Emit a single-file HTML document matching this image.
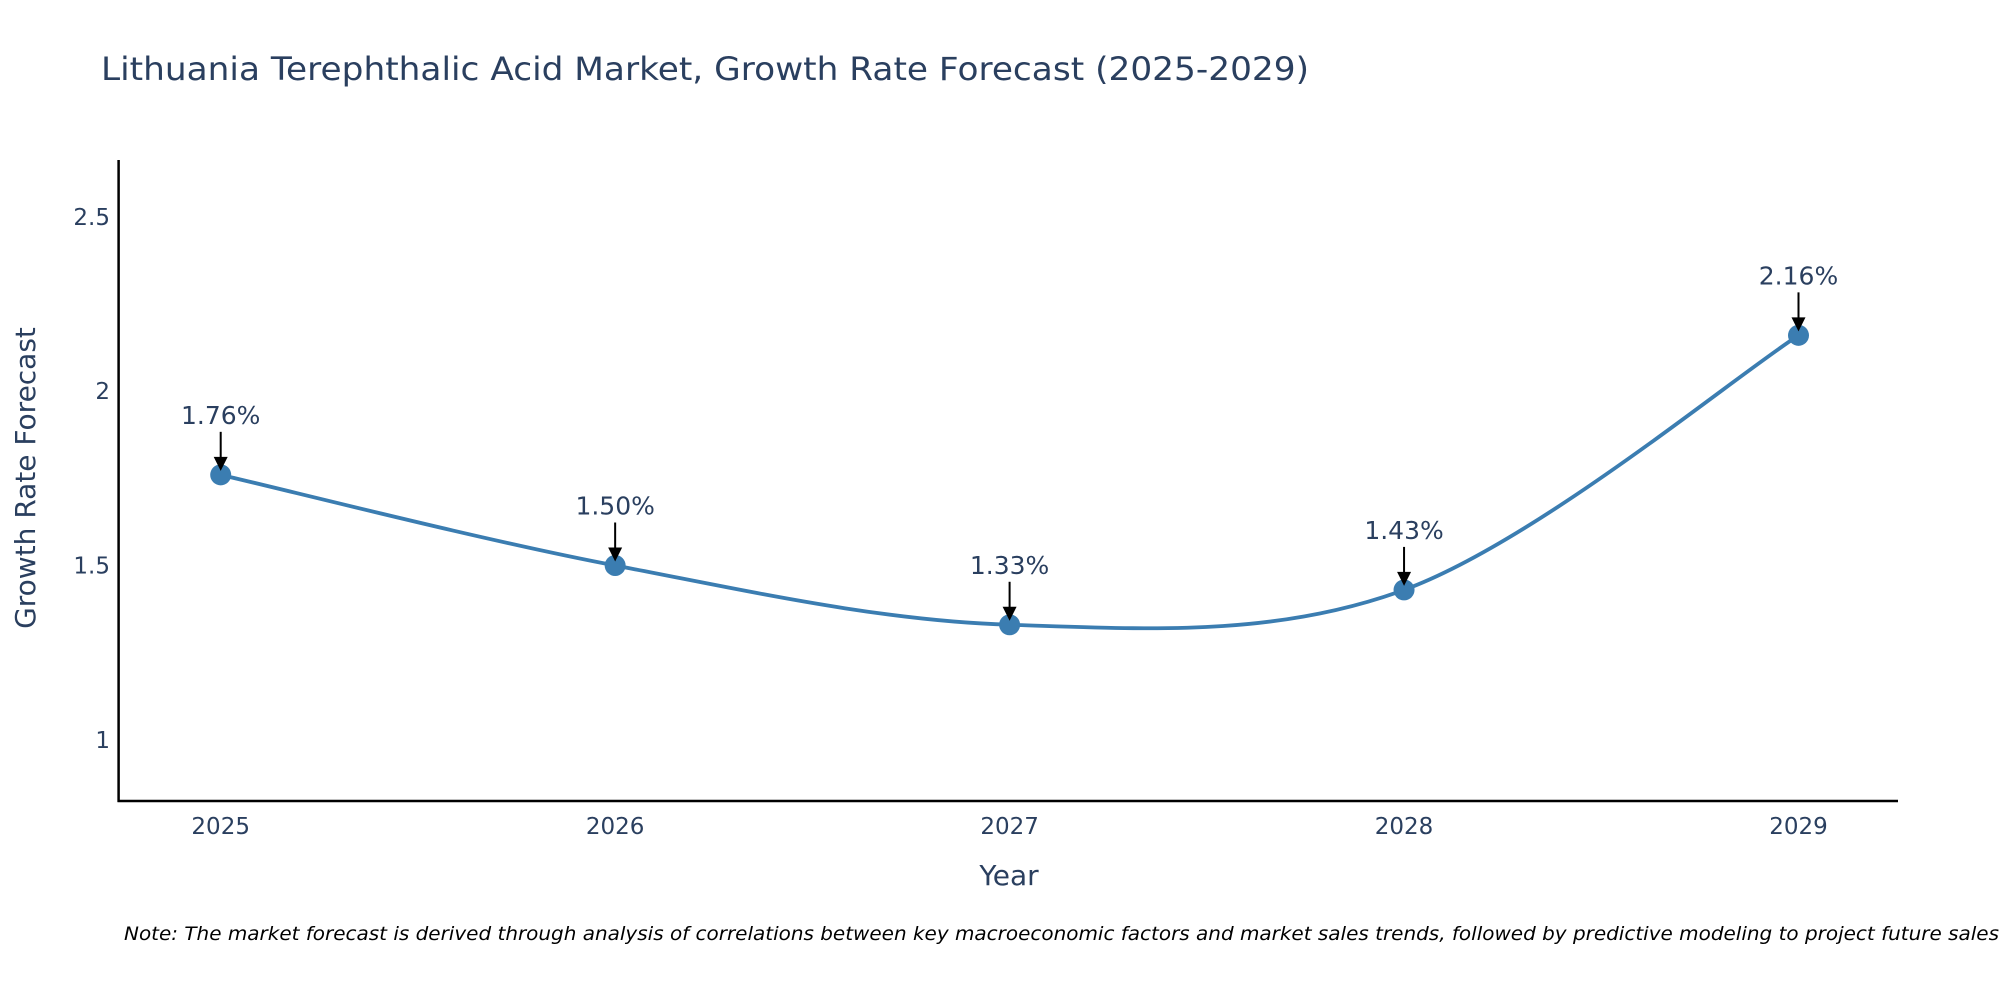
<!DOCTYPE html>
<html><head><meta charset="utf-8"><style>
html,body{margin:0;padding:0;background:#fff;}
svg{display:block;font-family:"DejaVu Sans","Liberation Sans",sans-serif;}
</style></head><body>
<svg id="chart" width="2000" height="1000" viewBox="0 0 2000 1000">
<text x="101" y="80" font-size="32" fill="#2a3f5f" textLength="1208" lengthAdjust="spacingAndGlyphs">Lithuania Terephthalic Acid Market, Growth Rate Forecast (2025-2029)</text>
<g id="yticks"></g>
<g id="xticks"></g>
<line x1="118.6" y1="160" x2="118.6" y2="802" stroke="#000" stroke-width="2.5"/>
<line x1="117.5" y1="801" x2="1898" y2="801" stroke="#000" stroke-width="2.5"/>
<text x="1009" y="885" font-size="28" fill="#2a3f5f" text-anchor="middle">Year</text>
<text transform="translate(35,478) rotate(-90)" font-size="28" fill="#2a3f5f" text-anchor="middle">Growth Rate Forecast</text>
<g id="series"></g>
<g id="annots"></g>
<text x="124" y="940" font-size="19" font-style="italic" fill="#000" textLength="1875" lengthAdjust="spacingAndGlyphs">Note: The market forecast is derived through analysis of correlations between key macroeconomic factors and market sales trends, followed by predictive modeling to project future sales</text>
</svg>
<script>
const years = [2025, 2026, 2027, 2028, 2029];
const rates = [1.76, 1.50, 1.33, 1.43, 2.16];
const labels = ["1.76%", "1.50%", "1.33%", "1.43%", "2.16%"];
const yTickVals = [1, 1.5, 2, 2.5];
const yTickLabels = ["1", "1.5", "2", "2.5"];

const NS = "http://www.w3.org/2000/svg";
function xs(v){ return 220.7 + (v - 2025) * (1798.5 - 220.7) / 4; }
function ys(v){ return 216.8 + (2.5 - v) * 348.7; }
function mk(tag, attrs, parent){ const e = document.createElementNS(NS, tag); for (const k in attrs) e.setAttribute(k, attrs[k]); parent.appendChild(e); return e; }

const yt = document.getElementById('yticks');
yTickVals.forEach((v, i) => {
  const t = mk('text', {x: 110, y: ys(v) + 8, 'font-size': 23, fill: '#2a3f5f', 'text-anchor': 'end'}, yt);
  
  
  t.textContent = yTickLabels[i];
});
const xt = document.getElementById('xticks');
years.forEach(y => {
  const t = mk('text', {x: xs(y), y: 834, 'font-size': 23, fill: '#2a3f5f', 'text-anchor': 'middle'}, xt);
  
  
  t.textContent = String(y);
});

const pts = years.map((y, i) => [xs(y), ys(rates[i])]);
let d = 'M' + pts[0][0] + ',' + pts[0][1];
const s = 1/6;
for (let i = 0; i < pts.length - 1; i++) {
  const p0 = pts[Math.max(0, i-1)], p1 = pts[i], p2 = pts[i+1], p3 = pts[Math.min(pts.length-1, i+2)];
  const c1 = [p1[0] + (p2[0]-p0[0])*s, p1[1] + (p2[1]-p0[1])*s];
  const c2 = [p2[0] - (p3[0]-p1[0])*s, p2[1] - (p3[1]-p1[1])*s];
  d += ' C' + c1 + ' ' + c2 + ' ' + p2;
}
const ser = document.getElementById('series');
const line = mk('path', {d: d, fill: 'none', stroke: '#3b7db1', 'stroke-width': 3.8}, ser);


pts.forEach(p => {
  const c = mk('circle', {cx: p[0], cy: p[1], r: 10.5, fill: '#3b7db1'}, ser);
  
  
});
const an = document.getElementById('annots');
pts.forEach((p, i) => {
  const l = mk('line', {x1: p[0], y1: p[1] - 43, x2: p[0], y2: p[1] - 16, stroke: '#000', 'stroke-width': 2}, an);
  
  
  const h = mk('polygon', {points: (p[0]-7)+','+(p[1]-18)+' '+(p[0]+7)+','+(p[1]-18)+' '+p[0]+','+(p[1]-4), fill: '#000'}, an);
  
  
  const t = mk('text', {x: p[0], y: p[1] - 51, 'font-size': 25, fill: '#2a3f5f', 'text-anchor': 'middle'}, an);
  
  
  t.textContent = labels[i];
});
</script>
</body></html>
